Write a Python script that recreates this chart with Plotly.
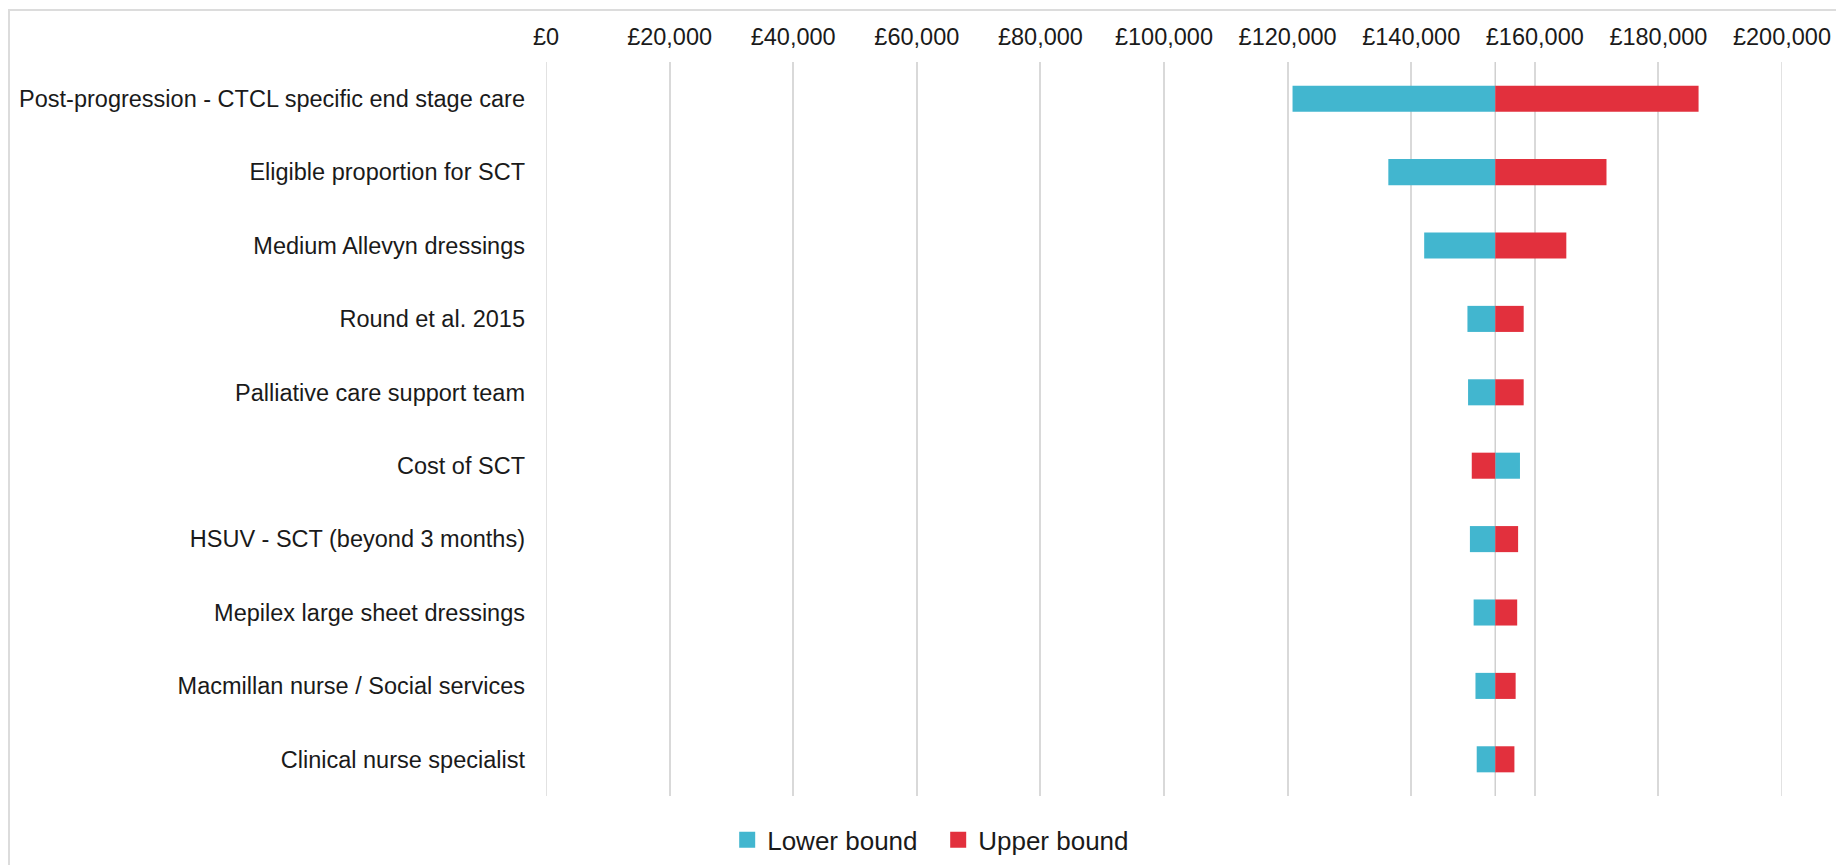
import plotly.graph_objects as go

# One-way sensitivity analysis (tornado): ICER under lower / upper parameter bounds
BASE_ICER = 153600

parameters = [
    "Post-progression - CTCL specific end stage care",
    "Eligible proportion for SCT",
    "Medium Allevyn dressings",
    "Round et al. 2015",
    "Palliative care support team",
    "Cost of SCT",
    "HSUV - SCT (beyond 3 months)",
    "Mepilex large sheet dressings",
    "Macmillan nurse / Social services",
    "Clinical nurse specialist",
]
lower_bound = [120800, 136300, 142100, 149100, 149200, 157600, 149500, 150100, 150400, 150600]
upper_bound = [186500, 171600, 165100, 158200, 158200, 149800, 157300, 157150, 156900, 156700]

x_ticks = [0, 20000, 40000, 60000, 80000, 100000, 120000, 140000, 160000, 180000, 200000]
x_tick_labels = ["£0", "£20,000", "£40,000", "£60,000", "£80,000", "£100,000",
                 "£120,000", "£140,000", "£160,000", "£180,000", "£200,000"]

BLUE = "#42B6CF"
RED = "#E2303D"
FONT = "Liberation Sans, Arial, sans-serif"
TEXT = "#1a1a1a"
GRID = "#d9d9d9"

fig = go.Figure()

# bars start at the base-case ICER and extend to the bound value
fig.add_trace(go.Bar(
    y=parameters, x=[v - BASE_ICER for v in lower_bound], base=BASE_ICER,
    orientation="h", name="Lower bound", marker=dict(color=BLUE, line=dict(width=0)),
    showlegend=False,
))
fig.add_trace(go.Bar(
    y=parameters, x=[v - BASE_ICER for v in upper_bound], base=BASE_ICER,
    orientation="h", name="Upper bound", marker=dict(color=RED, line=dict(width=0)),
    showlegend=False,
))

# legend entries with larger square swatches
for name, col in (("Lower bound", BLUE), ("Upper bound", RED)):
    fig.add_trace(go.Scatter(
        x=[None], y=[None], mode="markers", name=name,
        marker=dict(symbol="square", size=16, color=col),
    ))

# vertical axis crossing at the base-case value
fig.add_shape(type="line", xref="x", yref="paper", x0=BASE_ICER, x1=BASE_ICER,
              y0=0, y1=1, line=dict(color="#d0d0d0", width=1.5), layer="below")

# gridlines on the two ends of the value axis
for edge in (x_ticks[0], x_ticks[-1]):
    fig.add_shape(type="line", xref="x", yref="paper", x0=edge, x1=edge,
                  y0=0, y1=1, line=dict(color=GRID, width=1.5), layer="below")

# light frame around the chart area
fig.add_shape(type="rect", xref="paper", yref="paper",
              x0=(9 - 546) / 1236, x1=(1845 - 546) / 1236,
              y0=(796 - 875) / 734, y1=(796 - 10) / 734,
              line=dict(color="#dcdcdc", width=2), fillcolor="rgba(0,0,0,0)", layer="below")

fig.update_layout(
    width=1836, height=865,
    margin=dict(l=546, r=54, t=62, b=69, autoexpand=False),
    paper_bgcolor="white", plot_bgcolor="white",
    barmode="overlay", bargap=0.645,
    font=dict(family=FONT, size=23.5, color=TEXT),
    legend=dict(
        orientation="h", xref="container", yref="container",
        x=0.511, xanchor="center", y=0.029, yanchor="middle",
        font=dict(size=26, color=TEXT), itemwidth=30, entrywidth=166,
        bgcolor="rgba(0,0,0,0)",
    ),
    xaxis=dict(
        side="top", range=[x_ticks[0], x_ticks[-1]], tickvals=x_ticks, ticktext=x_tick_labels,
        showgrid=True, gridcolor=GRID, gridwidth=1.5, automargin=False,
        zeroline=False, showline=False, ticks="", ticklabelstandoff=11,
        tickfont=dict(size=23.5, color=TEXT), fixedrange=True,
    ),
    yaxis=dict(
        autorange="reversed", showgrid=False, zeroline=False, showline=False,
        automargin=False, ticks="", ticklabelstandoff=20,
        tickfont=dict(size=23.5, color=TEXT),
    ),
)

fig.write_html("out.html")
